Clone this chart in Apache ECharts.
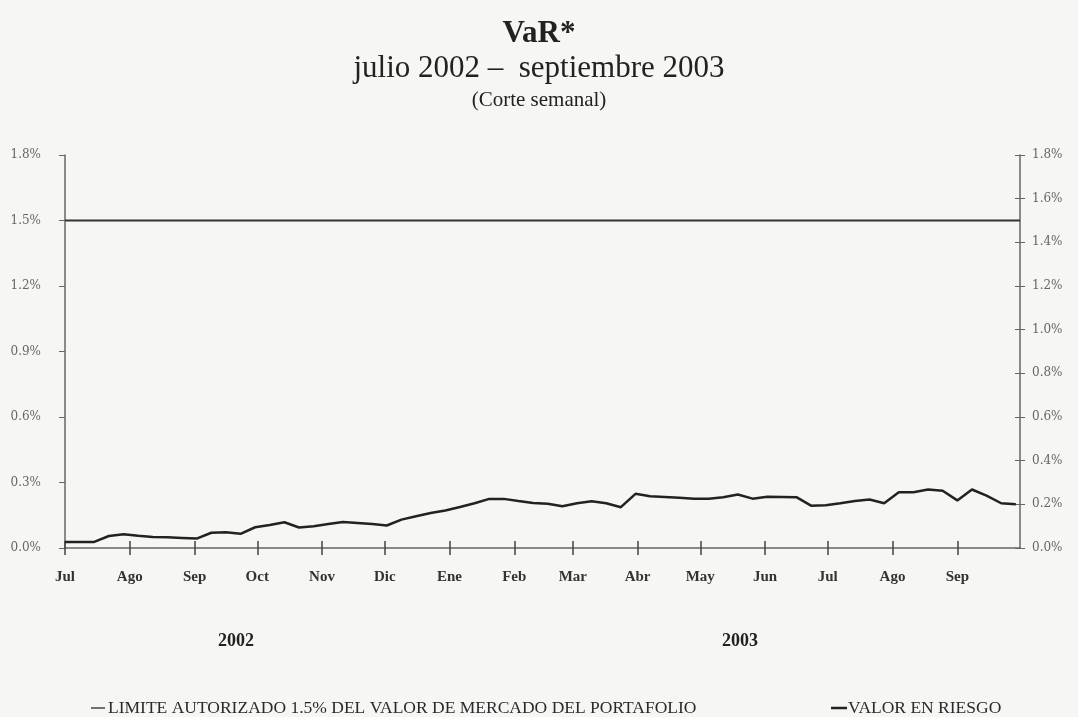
<!DOCTYPE html>
<html>
<head>
<meta charset="utf-8">
<script src="https://cdn.jsdelivr.net/npm/echarts@6/dist/echarts.min.js"></script>
<style>
  html, body { margin: 0; padding: 0; background: #f6f6f4; }
  #chart { width: 1078px; height: 717px; }
</style>
</head>
<body>
<div id="chart"></div>
<script>
// Period covered by the chart (weekly observations)
const periodStart = '2002-07-01';
const periodEnd = '2003-10-01';
const firstWeek = '2002-07-01';

// Month starts used for the x-axis ticks and their Spanish labels
const monthStarts = ['2002-07-01', '2002-08-01', '2002-09-01', '2002-10-01', '2002-11-01',
  '2002-12-01', '2003-01-01', '2003-02-01', '2003-03-01', '2003-04-01', '2003-05-01',
  '2003-06-01', '2003-07-01', '2003-08-01', '2003-09-01'];
const monthLabels = ['Jul', 'Ago', 'Sep', 'Oct', 'Nov', 'Dic', 'Ene', 'Feb', 'Mar', 'Abr',
  'May', 'Jun', 'Jul', 'Ago', 'Sep'];

// Weekly value at risk, % of the portfolio market value
const varValues = [
  0.028, 0.028, 0.028, 0.055, 0.063, 0.056, 0.050, 0.049, 0.046, 0.043,
  0.070, 0.072, 0.065, 0.095, 0.105, 0.118, 0.094, 0.100, 0.110, 0.119,
  0.115, 0.110, 0.103, 0.130, 0.145, 0.160, 0.172, 0.188, 0.205, 0.225,
  0.225, 0.215, 0.206, 0.203, 0.191, 0.205, 0.214, 0.205, 0.187, 0.248,
  0.237, 0.234, 0.230, 0.226, 0.226, 0.232, 0.245, 0.226, 0.235, 0.234,
  0.233, 0.194, 0.196, 0.205, 0.215, 0.222, 0.205, 0.255, 0.255, 0.268,
  0.262, 0.218, 0.268, 0.240, 0.205, 0.200
];

// Authorised limit, % of the portfolio market value
const limitValue = 1.5;

// Year captions under the month labels
const yearLabels = ['2002', '2003'];

const legendNames = ['LIMITE AUTORIZADO 1.5% DEL VALOR DE MERCADO DEL PORTAFOLIO', 'VALOR EN RIESGO'];

// Dates are placed on a day-count axis measured from the start of the period
const DAY = 24 * 3600 * 1000;
function toDay(s) {
  const p = s.split('-').map(Number);
  const q = periodStart.split('-').map(Number);
  return Math.round((Date.UTC(p[0], p[1] - 1, p[2]) - Date.UTC(q[0], q[1] - 1, q[2])) / DAY);
}

const endDay = toDay(periodEnd);
const monthDays = monthStarts.map(toDay);
const weekBase = toDay(firstWeek);

const varData = varValues.map((v, k) => [weekBase + 7 * k, v]);
const limitData = [[0, limitValue], [endDay, limitValue]];

const serif = '"Liberation Serif", "DejaVu Serif", "Times New Roman", serif';
const wideSerif = '"DejaVu Serif", "Liberation Serif", serif';
const axisGray = '#666';
const pct = v => v.toFixed(1) + '%';
const plotBox = { left: 65, right: 58, top: 155, bottom: 169 };

const chart = echarts.init(document.getElementById('chart'), null, { renderer: 'canvas' });

chart.setOption({
  backgroundColor: '#f6f6f4',
  animation: false,
  title: [
    { text: 'VaR*', left: 'center', top: 13,
      textStyle: { fontFamily: serif, fontSize: 31, fontWeight: 'bold', color: '#222' } },
    { text: 'julio 2002 \u2013  septiembre 2003', left: 'center', top: 48,
      textStyle: { fontFamily: serif, fontSize: 31, fontWeight: 'normal', color: '#222' } },
    { text: '(Corte semanal)', left: 'center', top: 85,
      textStyle: { fontFamily: serif, fontSize: 21, fontWeight: 'normal', color: '#222' } }
  ],
  graphic: [
    { type: 'text', left: 218, top: 632,
      style: { text: yearLabels[0], font: 'bold 18px ' + serif, fill: '#222' } },
    { type: 'text', left: 722, top: 632,
      style: { text: yearLabels[1], font: 'bold 18px ' + serif, fill: '#222' } }
  ],
  legend: [
    {
      left: 86, top: 694, itemWidth: 14, itemHeight: 1.5, itemGap: 0, icon: 'rect',
      textStyle: { fontFamily: serif, fontSize: 17.5, color: '#2a2a2a', padding: [0, 0, 0, -2] },
      data: [{ name: legendNames[0], itemStyle: { color: '#444' } }]
    },
    {
      left: 826, top: 694, itemWidth: 16, itemHeight: 2.5, itemGap: 0, icon: 'rect',
      textStyle: { fontFamily: serif, fontSize: 17.5, color: '#2a2a2a', padding: [0, 0, 0, -4] },
      data: [{ name: legendNames[1], itemStyle: { color: '#222' } }]
    }
  ],
  grid: [
    Object.assign({}, plotBox),
    Object.assign({}, plotBox)
  ],
  xAxis: [
    {
      gridIndex: 0, type: 'value', min: 0, max: endDay,
      axisLine: { show: true, onZero: false, lineStyle: { color: axisGray, width: 1.5 } },
      axisTick: { show: true, inside: false, length: 7, customValues: monthDays,
        lineStyle: { color: '#444', width: 1.5 } },
      axisLabel: {
        customValues: monthDays, margin: 22,
        fontFamily: serif, fontSize: 15, fontWeight: 'bold', color: '#333',
        formatter: v => {
          const i = monthDays.indexOf(v);
          return i >= 0 ? monthLabels[i] : '';
        }
      },
      splitLine: { show: false }
    },
    {
      gridIndex: 0, type: 'value', min: 0, max: endDay, position: 'bottom',
      axisLine: { show: false, onZero: false },
      axisTick: { show: true, inside: true, length: 7, customValues: monthDays,
        lineStyle: { color: '#444', width: 1.5 } },
      axisLabel: { show: false },
      splitLine: { show: false }
    },
    {
      gridIndex: 1, type: 'value', min: 0, max: endDay, show: false
    }
  ],
  yAxis: [
    {
      gridIndex: 0, type: 'value', position: 'left', min: 0, max: 1.8, interval: 0.3,
      axisLine: { show: true, onZero: false, lineStyle: { color: axisGray, width: 1.5 } },
      axisTick: { show: true, length: 6, lineStyle: { color: axisGray } },
      axisLabel: { formatter: pct, fontFamily: wideSerif, fontSize: 12, color: '#666', margin: 24 },
      splitLine: { show: false }
    },
    {
      gridIndex: 0, type: 'value', position: 'right', min: 0, max: 1.8, interval: 0.2,
      axisLine: { show: true, onZero: false, lineStyle: { color: axisGray, width: 1.5 } },
      axisTick: { show: true, length: 5, lineStyle: { color: axisGray } },
      axisLabel: { formatter: pct, fontFamily: wideSerif, fontSize: 12, color: '#666', margin: 12 },
      splitLine: { show: false }
    },
    {
      gridIndex: 1, type: 'value', position: 'right', min: 0, max: 1.8, interval: 0.2,
      axisLine: { show: false, onZero: false },
      axisTick: { show: true, inside: true, length: 5, lineStyle: { color: axisGray } },
      axisLabel: { show: false },
      splitLine: { show: false }
    }
  ],
  series: [
    {
      name: legendNames[0], type: 'line', xAxisIndex: 0, yAxisIndex: 0,
      data: limitData, showSymbol: false, symbol: 'none',
      lineStyle: { color: '#333', width: 2 }, z: 3
    },
    {
      name: legendNames[1], type: 'line', xAxisIndex: 0, yAxisIndex: 0,
      data: varData, showSymbol: false, symbol: 'none',
      lineStyle: { color: '#222', width: 2.5 }, z: 4
    }
  ]
});
</script>
</body>
</html>
